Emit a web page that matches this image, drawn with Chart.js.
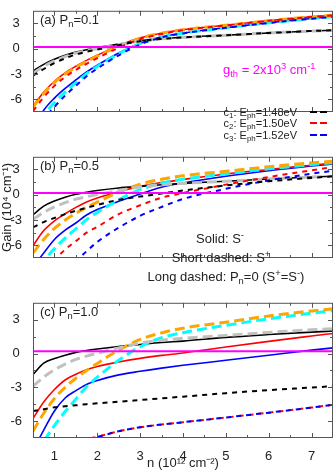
<!DOCTYPE html>
<html>
<head>
<meta charset="utf-8">
<script src="https://cdn.jsdelivr.net/npm/chart.js@4.4.1/dist/chart.umd.min.js"></script>
<style>
  body { margin: 0; background: #fff; font-family: "Liberation Sans", Arial, sans-serif; color: #222; }
  #fig { position: relative; width: 334px; height: 472px; overflow: hidden; }
  canvas { position: absolute; left: 0; z-index: 0; }
  .txt { position: absolute; z-index: 2; white-space: nowrap; font-size: 13px; line-height: 15px; }
  .leg { position: absolute; z-index: 2; right: 37px; font-size: 11px; line-height: 12px; white-space: nowrap; }
  .smp { position: absolute; z-index: 2; left: 310px; width: 18px; height: 2px; }
  sub, sup { font-size: 0.72em; line-height: 0; vertical-align: baseline; position: relative; }
  sub { top: 0.3em; }
  sup { top: -0.5em; }
</style>
</head>
<body>
<div id="fig">
  <canvas id="chartA" width="334" height="146" style="top:0px"></canvas>
  <canvas id="chartB" width="334" height="146" style="top:146px"></canvas>
  <canvas id="chartC" width="334" height="180" style="top:292px"></canvas>

  <div class="txt" style="left:40px;top:12px">(a) P<sub>n</sub>=0.1</div>
  <div class="txt" style="left:40px;top:158px">(b) P<sub>n</sub>=0.5</div>
  <div class="txt" style="left:40px;top:304px">(c) P<sub>n</sub>=1.0</div>

  <div class="txt" style="left:223px;top:62px;color:#ff00ff">g<sub>th</sub> = 2x10<sup>3</sup> cm<sup>-1</sup></div>

  <div class="leg" style="top:106px">c<sub>1</sub>: E<sub>ph</sub>=1.48eV</div>
  <div class="leg" style="top:117px">c<sub>2</sub>: E<sub>ph</sub>=1.50eV</div>
  <div class="leg" style="top:129px">c<sub>3</sub>: E<sub>ph</sub>=1.52eV</div>
  <div class="smp" style="top:111px;background:repeating-linear-gradient(90deg,#000 0 7px,transparent 7px 10px)"></div>
  <div class="smp" style="top:122px;background:repeating-linear-gradient(90deg,#f00 0 7px,transparent 7px 10px)"></div>
  <div class="smp" style="top:134px;background:repeating-linear-gradient(90deg,#00f 0 7px,transparent 7px 10px)"></div>

  <div class="txt" style="left:120px;width:200px;text-align:center;top:231px">Solid: S<sup>-</sup></div>
  <div class="txt" style="left:121px;width:200px;text-align:center;top:250px">Short dashed: S<sup>+</sup></div>
  <div class="txt" style="left:126px;width:200px;text-align:center;top:269px">Long dashed: P<sub>n</sub>=0 (S<sup>+</sup>=S<sup>-</sup>)</div>
</div>

<script>
// carrier density n (10^12 cm^-2)
const nVals = [0.5, 0.75, 1, 1.25, 1.5, 1.75, 2, 2.5, 3, 3.5, 4, 5, 6, 7, 7.5];

// Pn = 0 (S+ = S-), same in all panels
const grayP0   = [-2.9, -2.1, -1.45, -0.94, -0.52, -0.23, 0.03, 0.5, 0.93, 1.18, 1.35, 1.6, 1.87, 2.1, 2.2];
const orangeP0 = [-6.9, -5.3, -4.0, -3.0, -2.2, -1.5, -0.88, 0.3, 1.25, 1.83, 2.25, 2.78, 3.33, 3.78, 3.97];
const cyanP0   = [-10.2, -7.9, -6.4, -5.15, -4.05, -2.95, -2.1, -0.6, 0.6, 1.4, 1.85, 2.5, 3.08, 3.58, 3.8];

// (a) Pn = 0.1
const blackSolidA = [-2.65, -1.85, -1.25, -0.78, -0.4, -0.12, 0.12, 0.55, 0.95, 1.19, 1.36, 1.6, 1.87, 2.1, 2.2];
const blackDashA  = [-3.2, -2.4, -1.7, -1.15, -0.68, -0.36, -0.1, 0.42, 0.9, 1.16, 1.34, 1.6, 1.87, 2.1, 2.2];
const redSolidA   = [-6.8, -5.15, -3.85, -2.85, -2.07, -1.38, -0.78, 0.38, 1.3, 1.85, 2.26, 2.79, 3.33, 3.78, 3.97];
const redDashA    = [-7.4, -5.75, -4.4, -3.35, -2.5, -1.78, -1.12, 0.12, 1.12, 1.75, 2.2, 2.76, 3.32, 3.77, 3.96];
const blueSolidA  = [-9.5, -7.3, -5.85, -4.7, -3.7, -2.75, -1.95, -0.5, 0.66, 1.42, 1.86, 2.5, 3.08, 3.58, 3.8];
const blueDashA   = [-10.8, -8.4, -6.9, -5.55, -4.4, -3.25, -2.35, -0.78, 0.5, 1.35, 1.82, 2.48, 3.06, 3.57, 3.79];

// (b) Pn = 0.5
const blackSolidB = [-2.4, -1.35, -0.75, -0.3, 0.05, 0.3, 0.5, 0.8, 0.99, 1.18, 1.35, 1.6, 1.87, 2.1, 2.2];
const blackDashB  = [-3.86, -3.25, -2.75, -2.3, -1.9, -1.55, -1.2, -0.6, -0.22, 0.15, 0.5, 1.1, 1.6, 2.0, 2.2];
const redSolidB   = [-6.05, -4.25, -3.1, -2.25, -1.5, -0.85, -0.38, 0.35, 0.99, 1.45, 1.8, 2.47, 3.0, 3.5, 3.75];
const redDashB    = [-10.5, -9.0, -7.75, -6.5, -5.5, -4.5, -3.8, -2.3, -1.25, -0.35, 0.2, 1.2, 2.1, 2.9, 3.3];
const blueSolidB  = [-8.6, -6.9, -5.3, -4.2, -3.35, -2.4, -1.75, -0.78, 0.1, 0.9, 1.4, 2.2, 2.85, 3.4, 3.65];
const blueDashB   = [-13.0, -11.5, -10.2, -9.0, -7.9, -6.7, -5.6, -3.9, -2.5, -1.45, -0.5, 0.7, 1.7, 2.5, 2.85];

// (c) Pn = 1.0
const blackSolidC = [-1.86, -0.85, -0.45, -0.15, 0.1, 0.27, 0.4, 0.62, 0.8, 0.97, 1.1, 1.43, 1.68, 1.9, 2.0];
const blackDashC  = [-5.1, -4.95, -4.78, -4.68, -4.6, -4.5, -4.42, -4.28, -4.13, -3.98, -3.83, -3.52, -3.25, -3.02, -2.9];
const redSolidC   = [-5.77, -4.3, -3.2, -2.35, -1.85, -1.45, -1.15, -0.75, -0.43, -0.17, 0.05, 0.58, 1.08, 1.55, 1.78];
const redDashC    = [-9.0, -8.6, -8.3, -8.0, -7.8, -7.6, -7.4, -6.9, -6.55, -6.3, -6.1, -5.68, -5.25, -4.8, -4.55];
const blueSolidC  = [-8.6, -6.8, -5.1, -3.95, -3.3, -2.75, -2.4, -1.9, -1.58, -1.3, -1.05, -0.6, -0.15, 0.3, 0.5];
const blueDashC   = [-9.0, -8.6, -8.3, -8.0, -7.8, -7.6, -7.4, -6.9, -6.55, -6.3, -6.1, -5.68, -5.25, -4.8, -4.55];

const gth = 0.2; // threshold gain 2x10^3 cm^-1

const xTicks = [1, 2, 3, 4, 5, 6, 7];
const xMinor = [1.5, 2.5, 3.5, 4.5, 5.5, 6.5];
const yTicks = [-6, -3, 0, 3];
const yMinor = [-4.5, -1.5, 1.5];

const FONT = "'Liberation Sans', Arial, sans-serif";

const kinds = {
  solid: { borderWidth: 1.6, borderDash: [], order: 3 },
  long:  { borderWidth: 3, borderDash: [10, 5], order: 2 },
  short: { borderWidth: 2, borderDash: [5, 5], order: 1 },
};

function line(vals, color, kind, dashOffset) {
  const k = kinds[kind];
  return {
    data: nVals.map((n, i) => ({ x: n, y: vals[i] })),
    borderColor: color,
    borderWidth: k.borderWidth,
    borderDash: k.borderDash,
    borderDashOffset: dashOffset || 0,
    order: k.order,
    clip: 0,
  };
}

function gthLine() {
  return {
    data: [{ x: 0.5, y: gth }, { x: 7.5, y: gth }],
    borderColor: "#ff00ff",
    borderWidth: 2,
    order: 0,
    clip: 0,
  };
}

// frame + inward ticks on all four sides
const frameTicks = {
  id: "frameTicks",
  afterDraw(chart) {
    const { ctx, chartArea: a, scales } = chart;
    const x = scales.x, y = scales.y;
    ctx.save();
    ctx.strokeStyle = "#555";
    ctx.lineWidth = 1;
    ctx.strokeRect(a.left + 0.5, a.top + 0.5, a.width - 1, a.height - 1);
    ctx.beginPath();
    const xt = (v, len) => {
      const px = Math.round(x.getPixelForValue(v)) + 0.5;
      ctx.moveTo(px, a.top); ctx.lineTo(px, a.top + len);
      ctx.moveTo(px, a.bottom); ctx.lineTo(px, a.bottom - len);
    };
    const yt = (v, len) => {
      const py = Math.round(y.getPixelForValue(v)) + 0.5;
      ctx.moveTo(a.left, py); ctx.lineTo(a.left + len, py);
      ctx.moveTo(a.right, py); ctx.lineTo(a.right - len, py);
    };
    xTicks.forEach(v => xt(v, 5));
    xMinor.forEach(v => xt(v, 3));
    yTicks.forEach(v => yt(v, 5));
    yMinor.forEach(v => yt(v, 3));
    ctx.stroke();
    ctx.restore();
  },
};

function panel(id, datasets, showX, yTitle) {
  new Chart(document.getElementById(id), {
    type: "line",
    data: { datasets },
    plugins: [frameTicks],
    options: {
      responsive: false,
      animation: false,
      layout: { padding: { left: 0, right: 1, top: 0, bottom: 0 } },
      plugins: { legend: { display: false }, tooltip: { enabled: false } },
      elements: { point: { radius: 0 }, line: { cubicInterpolationMode: "monotone" } },
      scales: {
        x: {
          type: "linear",
          min: 0.5,
          max: 7.5,
          display: showX,
          grid: { display: false },
          border: { display: false },
          afterBuildTicks: s => { s.ticks = xTicks.map(v => ({ value: v })); },
          afterFit: s => { s.height = 34; },
          ticks: { font: { size: 13, family: FONT }, color: "#222", padding: 3, maxRotation: 0 },
          title: {
            display: showX,
            text: "n (10¹² cm⁻²)",
            font: { size: 13, family: FONT },
            color: "#222",
            padding: { top: 0, bottom: 1 },
          },
        },
        y: {
          type: "linear",
          min: -7.5,
          max: 4.5,
          grid: { display: false },
          border: { display: false },
          afterBuildTicks: s => { s.ticks = yTicks.map(v => ({ value: v })); },
          afterFit: s => { s.width = 33; },
          ticks: {
            font: { size: 13, family: FONT },
            color: "#222",
            padding: 3,
            crossAlign: "center",
            callback: v => String(v),
          },
          title: {
            display: !!yTitle,
            text: yTitle || "",
            font: { size: 13, family: FONT },
            color: "#222",
            padding: 0,
          },
        },
      },
    },
  });
}

panel("chartA", [
  gthLine(),
  line(grayP0, "#c0c0c0", "long"),
  line(orangeP0, "#ffa500", "long"),
  line(cyanP0, "#00ffff", "long"),
  line(blackSolidA, "#000", "solid"),
  line(redSolidA, "#ff0000", "solid"),
  line(blueSolidA, "#0000ff", "solid"),
  line(blackDashA, "#000", "short"),
  line(redDashA, "#ff0000", "short"),
  line(blueDashA, "#0000ff", "short"),
], false, null);

panel("chartB", [
  gthLine(),
  line(grayP0, "#c0c0c0", "long"),
  line(orangeP0, "#ffa500", "long"),
  line(cyanP0, "#00ffff", "long"),
  line(blackSolidB, "#000", "solid"),
  line(redSolidB, "#ff0000", "solid"),
  line(blueSolidB, "#0000ff", "solid"),
  line(blackDashB, "#000", "short"),
  line(redDashB, "#ff0000", "short"),
  line(blueDashB, "#0000ff", "short"),
], false, "Gain (10⁴ cm⁻¹)");

panel("chartC", [
  gthLine(),
  line(grayP0, "#c0c0c0", "long"),
  line(orangeP0, "#ffa500", "long"),
  line(cyanP0, "#00ffff", "long"),
  line(blackSolidC, "#000", "solid"),
  line(redSolidC, "#ff0000", "solid"),
  line(blueSolidC, "#0000ff", "solid"),
  line(blackDashC, "#000", "short"),
  line(blueDashC, "#0000ff", "short", 2.5),
  line(redDashC, "#ff0000", "short"),
], true, null);
</script>
</body>
</html>
